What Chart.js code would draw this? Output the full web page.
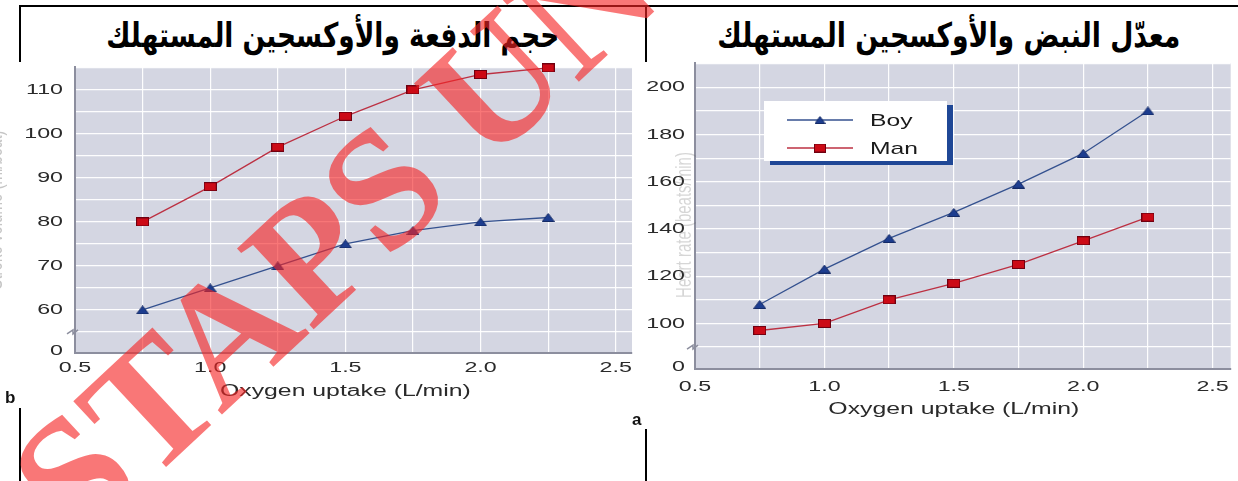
<!DOCTYPE html>
<html>
<head>
<meta charset="utf-8">
<script src="https://cdn.jsdelivr.net/npm/chart.js@4/dist/chart.umd.min.js"></script>
<style>
  html, body { margin: 0; padding: 0; background: #fff; }
  body { width: 1238px; height: 481px; position: relative; overflow: hidden; }
  .rule { position: absolute; background: #000; }
  .cell { position: absolute; top: 13px; height: 46px; text-align: center; white-space: nowrap; }
  .cell span { display: inline-block; font-family: "DejaVu Sans", sans-serif; font-weight: bold;
               font-size: 34px; line-height: 44px; direction: rtl; color: #000; transform-origin: 50% 50%; }
  canvas { position: absolute; }
  .tag { position: absolute; font-family: "Liberation Sans", Arial, sans-serif; font-weight: bold; font-size: 17px; color: #111; }
  svg#mark { position: absolute; left: 0; top: 0; pointer-events: none; }
</style>
</head>
<body>
  <!-- table frame -->
  <div class="rule" style="left:19px; top:5px; width:1219px; height:2px;"></div>
  <div class="rule" style="left:19px; top:5px; width:2px; height:57px;"></div>
  <div class="rule" style="left:645px; top:5px; width:2px; height:57px;"></div>
  <div class="rule" style="left:19px; top:408px; width:2px; height:73px;"></div>
  <div class="rule" style="left:645px; top:429px; width:2px; height:52px;"></div>

  <div class="cell" style="left:21px; width:624px;"><span id="t1" data-w="453">حجم الدفعة والأوكسجين المستهلك</span></div>
  <div class="cell" style="left:647px; width:603px;"><span id="t2" data-w="463">معدّل النبض والأوكسجين المستهلك</span></div>

  <canvas id="strokeChart" width="640" height="350" style="left:0; top:55px;"></canvas>
  <canvas id="heartChart" width="598" height="375" style="left:640px; top:55px;"></canvas>

  <div class="tag" style="left:5px; top:388px;">b</div>
  <div class="tag" style="left:632px; top:410px;">a</div>

  <svg id="mark" width="1238" height="481">
    <text x="78" y="549" transform="rotate(-43 78 549)" font-family="Liberation Serif, serif" font-weight="bold"
          font-size="170" fill="rgba(245,35,35,0.62)">STAPS UNIV</text>
  </svg>

<script>
// ---- data ----
const oxygenUptake = [0.75, 1.0, 1.25, 1.5, 1.75, 2.0, 2.25];
const strokeBoy = [60, 65, 70, 75, 78, 80, 81];
const strokeMan = [80, 88, 97, 104, 110, 113.5, 115];
const heartBoy = [108, 123, 136, 147, 159, 172, 190];
const heartMan = [97, 100, 110, 117, 125, 135, 145];
const seriesNames = ['Boy', 'Man'];
const xGridValues = [0.5, 0.75, 1.0, 1.25, 1.5, 1.75, 2.0, 2.25, 2.5];
const xTickLabels = ['0.5', '1.0', '1.5', '2.0', '2.5'];
const strokeTickLabels = ['0', '60', '70', '80', '90', '100', '110'];
const heartTickLabels = ['0', '100', '120', '140', '160', '180', '200'];
const xTitle = 'Oxygen uptake (L/min)';

// ---- title fitting ----
document.querySelectorAll('.cell span').forEach(s => {
  const w = s.getBoundingClientRect().width;
  s.style.transform = 'scaleX(' + (parseFloat(s.dataset.w) / w) + ')';
});

// ---- marker images ----
function markerCanvas(kind, w, h) {
  const c = document.createElement('canvas');
  c.width = w; c.height = h;
  const g = c.getContext('2d');
  g.lineWidth = 1;
  if (kind === 'rect') {
    g.fillStyle = '#cc0a16'; g.fillRect(0, 0, w, h);
    g.strokeStyle = '#700010'; g.strokeRect(0.5, 0.5, w - 1, h - 1);
  } else {
    g.beginPath(); g.moveTo(0.5, h - 0.5); g.lineTo(w / 2, 0.5); g.lineTo(w - 0.5, h - 0.5); g.closePath();
    g.fillStyle = '#1d3d8f'; g.fill(); g.strokeStyle = '#142a66'; g.stroke();
  }
  return c;
}
const triMark = markerCanvas('tri', 13, 9);
const rectMark = markerCanvas('rect', 13, 9);
const triKey = markerCanvas('tri', 11, 8);
const rectKey = markerCanvas('rect', 12, 9);

// text with horizontal stretch (the figure's lettering is wide)
function wideText(ctx, text, x, y, align, sx) {
  ctx.save();
  ctx.translate(x, y);
  ctx.scale(sx, 1);
  ctx.textAlign = align;
  ctx.textBaseline = 'middle';
  ctx.fillText(text, 0, 0);
  ctx.restore();
}

const plotBackdrop = {
  id: 'plotBackdrop',
  beforeDraw(chart) {
    const a = chart.chartArea, ctx = chart.ctx;
    ctx.save();
    ctx.fillStyle = '#d4d6e2';
    ctx.fillRect(a.left, a.top, a.right - a.left, a.bottom - a.top);
    ctx.restore();
  }
};

const axisText = {
  id: 'axisText',
  afterDraw(chart, args, o) {
    const ctx = chart.ctx, a = chart.chartArea;
    const xs = chart.scales.x, ys = chart.scales.y;
    ctx.save();
    ctx.fillStyle = '#2a2a2a';
    ctx.font = '15px "Liberation Sans", Arial, sans-serif';
    o.yLabels.forEach(l => {
      const v = l === '0' ? ys.min : parseFloat(l);
      const yy = ys.getPixelForValue(v) - (l === '0' ? 2 : 0);
      wideText(ctx, l, a.left - o.yGap, yy, 'right', 1.55);
    });
    xTickLabels.forEach(l => {
      wideText(ctx, l, xs.getPixelForValue(parseFloat(l)), a.bottom + o.xGap, 'center', 1.55);
    });
    ctx.font = '16px "Liberation Sans", Arial, sans-serif';
    const mid = (parseFloat(xTickLabels[0]) + parseFloat(xTickLabels[xTickLabels.length - 1])) / 2;
    wideText(ctx, xTitle, xs.getPixelForValue(mid), a.bottom + o.titleGap, 'center', 1.55);

    // broken-axis mark
    const by = ys.getPixelForValue(o.breakAt), bx = a.left;
    ctx.strokeStyle = '#8c8e9e';
    ctx.lineWidth = 1.5;
    ctx.beginPath();
    ctx.moveTo(bx - 8, by + 2); ctx.lineTo(bx - 2, by - 2); ctx.lineTo(bx - 2, by + 2); ctx.lineTo(bx + 3, by - 2);
    ctx.stroke();
    ctx.restore();
  }
};

const boxKey = {
  id: 'boxKey',
  afterDraw(chart, args, o) {
    if (!o.show) return;
    const ctx = chart.ctx, a = chart.chartArea;
    const x0 = a.left + o.dx, y0 = a.top + o.dy, w = 183, h = 60;
    ctx.save();
    ctx.fillStyle = '#1f4796';
    ctx.fillRect(x0 + 6, y0 + 4, w, h);
    ctx.fillStyle = '#ffffff';
    ctx.fillRect(x0, y0, w, h);
    chart.data.datasets.forEach((ds, i) => {
      const yy = y0 + 19 + i * 28;
      ctx.strokeStyle = ds.borderColor;
      ctx.lineWidth = 1.3;
      ctx.beginPath(); ctx.moveTo(x0 + 23, yy); ctx.lineTo(x0 + 89, yy); ctx.stroke();
      const img = ds.keyMark;
      ctx.drawImage(img, x0 + 56 - img.width / 2, yy - img.height / 2);
      ctx.fillStyle = '#1a1a1a';
      ctx.font = '17px "Liberation Sans", Arial, sans-serif';
      wideText(ctx, ds.label, x0 + 106, yy + 1, 'left', 1.45);
    });
    ctx.restore();
  }
};

const sideTitle = {
  id: 'sideTitle',
  afterDraw(chart, args, o) {
    if (!o.text) return;
    const ctx = chart.ctx;
    ctx.save();
    ctx.translate(o.x, o.y);
    ctx.rotate(-Math.PI / 2);
    ctx.fillStyle = 'rgba(90,90,90,' + o.alpha + ')';
    ctx.font = '15px "Liberation Sans", Arial, sans-serif';
    ctx.textAlign = 'center';
    ctx.textBaseline = 'middle';
    ctx.scale(1, 1.5);
    ctx.fillText(o.text, 0, 0);
    ctx.restore();
  }
};

function buildChart(id, p) {
  const series = [p.boy, p.man];
  return new Chart(document.getElementById(id), {
    type: 'line',
    data: {
      datasets: seriesNames.map((name, i) => ({
        label: name,
        data: oxygenUptake.map((x, k) => ({ x: x, y: series[i][k] })),
        borderColor: i === 0 ? '#34518f' : '#bc3042',
        borderWidth: 1.3,
        pointStyle: i === 0 ? triMark : rectMark,
        keyMark: i === 0 ? triKey : rectKey,
        pointRadius: 6,
        tension: 0,
        clip: false
      }))
    },
    options: {
      responsive: false,
      animation: false,
      devicePixelRatio: 1,
      layout: { padding: p.padding },
      plugins: {
        legend: { display: false },
        tooltip: { enabled: false },
        axisText: p.text,
        boxKey: p.key,
        sideTitle: p.side
      },
      scales: {
        x: {
          type: 'linear', min: 0.5, max: p.xMax,
          afterBuildTicks: s => { s.ticks = xGridValues.map(v => ({ value: v })); },
          afterFit: s => { s.height = 0; },
          ticks: { display: false },
          grid: { color: 'rgba(255,255,255,0.95)', lineWidth: 1.2, drawTicks: false },
          border: { display: true, color: '#8c8e9e', width: 2 }
        },
        y: {
          type: 'linear', min: p.yMin, max: p.yMax,
          afterBuildTicks: s => {
            const t = [];
            for (let v = p.yFirst; v <= p.yMax; v += p.yStep) t.push({ value: v });
            s.ticks = t;
          },
          afterFit: s => { s.width = 0; },
          ticks: { display: false },
          grid: { color: 'rgba(255,255,255,0.95)', lineWidth: 1.2, drawTicks: false },
          border: { display: true, color: '#8c8e9e', width: 2 }
        }
      }
    },
    plugins: [plotBackdrop, axisText, boxKey, sideTitle]
  });
}

buildChart('strokeChart', {
  boy: strokeBoy, man: strokeMan,
  xMax: 2.56, yMin: 50.2, yMax: 115.2, yFirst: 55, yStep: 5,
  padding: { left: 75, right: 8, top: 12, bottom: 52 },
  text: { yLabels: strokeTickLabels, yGap: 12, xGap: 15, titleGap: 39, breakAt: 55 },
  key: { show: false },
  side: { text: 'Stroke volume (ml/beat)', x: -4, y: 155, alpha: 0.35 }
});

buildChart('heartChart', {
  boy: heartBoy, man: heartMan,
  xMax: 2.57, yMin: 80.7, yMax: 210.3, yFirst: 90, yStep: 10,
  padding: { left: 55, right: 0, top: 8, bottom: 61 },
  text: { yLabels: heartTickLabels, yGap: 10, xGap: 18, titleGap: 41, breakAt: 90 },
  key: { show: true, dx: 69, dy: 38 },
  side: { text: 'Heart rate (beats/min)', x: 45, y: 170, alpha: 0.25 }
});
</script>
</body>
</html>
